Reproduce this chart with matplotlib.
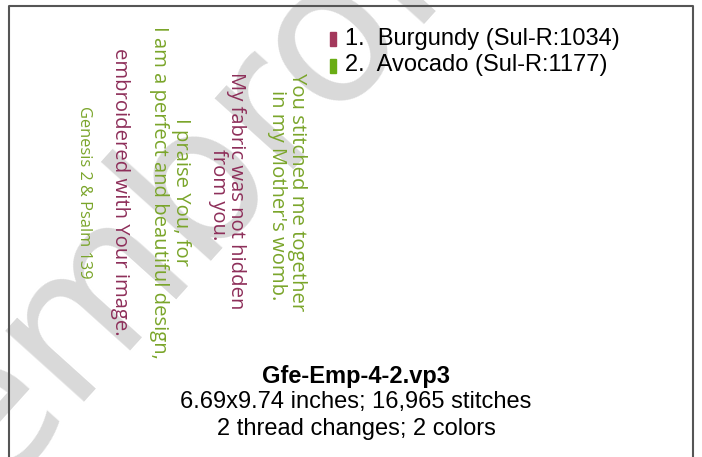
import matplotlib.pyplot as plt

# ---------------------------
# Data: design text, threads, caption
# ---------------------------
verse_lines = [
    "You stitched me together",
    "in my Mother's womb.",
    "My fabric was not hidden",
    "from you.",
    "I praise You, for",
    "I am a perfect and beautiful design,",
    "embroidered with Your image.",
    "Genesis 2 & Psalm 139",
]
verse_colors = ["green", "green", "burgundy", "burgundy",
                "green", "green", "burgundy", "green"]
# horizontal centre (px) of each rotated line, and its centre along the column
verse_x = [297, 277, 236, 218, 181, 159, 120, 84]
verse_y = [192, 195, 191, 195, 192, 192, 192, 192]
verse_size = [14.6, 14.6, 14.6, 14.6, 14.6, 14.6, 14.6, 11.8]

thread_names = ["1.  Burgundy (Sul-R:1034)", "2.  Avocado (Sul-R:1177)"]
thread_colors = ["#a3385c", "#6aad14"]

file_name = "Gfe-Emp-4-2.vp3"
info_lines = ["6.69x9.74 inches; 16,965 stitches", "2 thread changes; 2 colors"]

palette = {"green": "#7aa52a", "burgundy": "#8e2f5a"}

# ---------------------------
# Figure
# ---------------------------
W, H = 702, 457
fig = plt.figure(figsize=(W / 100, H / 100), dpi=100)
ax = fig.add_axes([0, 0, 1, 1])
ax.set_xlim(0, W)
ax.set_ylim(H, 0)
ax.axis("off")

# watermark behind everything
ax.text(-10, 495, "embroidery", rotation=48, rotation_mode="anchor",
        fontsize=140, color="#d9d9d9", family="DejaVu Sans",
        ha="left", va="baseline", zorder=0)

# frame
ax.plot([9, 9, 693, 693], [470, 6, 6, 470], color="#555555", lw=1.5,
        zorder=1, clip_on=False)

# embroidery text
for txt, c, x, y, s in zip(verse_lines, verse_colors, verse_x, verse_y, verse_size):
    ax.text(x, y, txt, rotation=270, ha="center", va="center",
            fontsize=s, color=palette[c], family="Open Sans", zorder=2)

# thread legend
for i, (name, col) in enumerate(zip(thread_names, thread_colors)):
    y = 38.5 + i * 27
    ax.add_patch(plt.Rectangle((330, y - 7), 6, 14, color=col, zorder=3))
    ax.text(345, y, name, ha="left", va="center", fontsize=17,
            family="Liberation Sans", color="black", zorder=3)

# caption
ax.text(356, 376, file_name, ha="center", va="center", fontsize=17,
        fontweight="bold", family="Liberation Sans", zorder=3)
for i, line in enumerate(info_lines):
    ax.text(356, 402 + i * 27, line, ha="center", va="center", fontsize=17,
            family="Liberation Sans", zorder=3)

fig.savefig("out.png", dpi=100)
